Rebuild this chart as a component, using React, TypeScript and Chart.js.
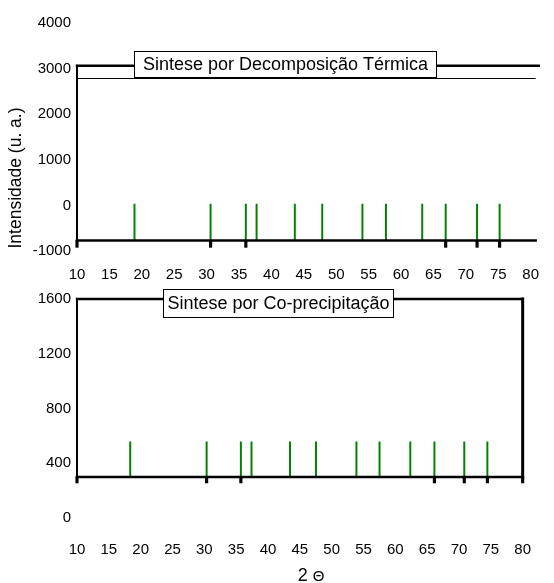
import React, { useEffect, useRef } from "react";
import { Chart, registerables } from "chart.js";

Chart.register(...registerables);

// ---------- data ----------
const xMin = 10;
const xMax = 80;
const xStep = 5;

const topTitle = "Sintese por Decomposição Térmica";
const topPeaks = [18.87, 30.61, 36.05, 37.71, 43.61, 47.84, 54.04, 57.67, 63.27, 66.89, 71.73, 75.21];
const topPeakBase = -770;
const topPeakTop = 30;
const topAxisTicks = [10, 30.61, 36.05, 66.89, 71.73, 75.21];
const topTickBottom = -920;
const topYMin = -1000;
const topYMax = 4000;
const topYStep = 1000;
const topFrameTop = 3060;
const topFrameThin = 2800;

const bottomTitle = "Sintese por Co-precipitação";
const bottomPeaks = [18.36, 30.36, 35.74, 37.41, 43.46, 47.54, 53.89, 57.52, 62.35, 66.14, 70.83, 74.46];
const bottomPeakBase = 300;
const bottomPeakTop = 556;
const bottomAxisTicks = [10, 30.36, 35.74, 66.14, 70.83, 74.46, 80];
const bottomTickBottom = 256;
const bottomYMin = 0;
const bottomYMax = 1600;
const bottomYStep = 400;
const bottomFrameTop = 1600;

const yAxisTitle = "Intensidade (u. a.)";
const xAxisTitleMain = "2 ";
const xAxisTitleSymbol = "Θ";

const FONT = '"Liberation Sans", Arial, Helvetica, sans-serif';

// ---------- frame plugin ----------
const framePlugin = {
  id: "frame",
  afterDatasetsDraw(chart: any, _args: any, opts: any) {
    const { ctx, chartArea, scales } = chart;
    const y = scales.y;
    const L = chartArea.left;
    const R = chartArea.right + (opts.extend || 0);
    const yTop = y.getPixelForValue(opts.top);
    const yAxis = y.getPixelForValue(opts.axis);
    const bl = L + opts.boxLeft;
    const br = L + opts.boxRight;
    const bt = Math.round(yTop + opts.boxTop);
    const bb = Math.round(yTop + opts.boxBottom);
    const line = (x1: number, y1: number, x2: number, y2: number) => {
      ctx.beginPath();
      ctx.moveTo(x1, y1);
      ctx.lineTo(x2, y2);
      ctx.stroke();
    };
    ctx.save();
    ctx.strokeStyle = "#000";
    ctx.lineCap = "square";
    ctx.lineWidth = 2.5;
    line(L, yTop, bl, yTop);
    line(br, yTop, R + (opts.topExtra || 0), yTop);
    if (opts.thin != null) {
      const yThin = y.getPixelForValue(opts.thin);
      ctx.lineWidth = 1;
      ctx.lineCap = "butt";
      line(L, Math.round(yThin) + 0.5, R, Math.round(yThin) + 0.5);
      ctx.lineCap = "square";
    }
    ctx.lineWidth = 2;
    line(L, yTop, L, yAxis);
    if (opts.rightLine) {
      ctx.lineWidth = 3;
      line(chartArea.right, yTop, chartArea.right, yAxis);
    }
    ctx.lineWidth = 2.5;
    line(L, yAxis, R, yAxis);
    ctx.fillStyle = "#fff";
    ctx.fillRect(bl, bt, br - bl, bb - bt);
    ctx.lineWidth = 1;
    ctx.lineCap = "butt";
    ctx.strokeRect(Math.round(bl) + 0.5, bt + 0.5, Math.round(br - bl) - 1, bb - bt - 1);
    ctx.fillStyle = "#000";
    ctx.font = `normal 18px ${FONT}`;
    ctx.textAlign = "center";
    ctx.textBaseline = "middle";
    ctx.fillText(opts.title, (bl + br) / 2, (bt + bb) / 2 + 1);
    if (opts.yTitle) {
      ctx.save();
      ctx.translate(opts.yTitleX, opts.yTitleY);
      ctx.rotate(-Math.PI / 2);
      ctx.font = `normal 17.5px ${FONT}`;
      ctx.fillText(opts.yTitle, 0, 0);
      ctx.restore();
    }
    ctx.restore();
  },
};

function makeConfig(p: any): any {
  const tickFont = { family: FONT, size: 15, weight: "normal" };
  return {
    type: "bar",
    data: {
      datasets: [
        {
          data: p.peaks.map((a: number) => ({ x: a, y: [p.peakBase, p.peakTop] })),
          backgroundColor: "#008000",
          borderWidth: 0,
          barThickness: 1.3,
          grouped: false,
        },
        {
          data: p.ticks.map((a: number) => ({ x: a, y: [p.tickBottom, p.peakBase] })),
          backgroundColor: "#000",
          borderWidth: 0,
          barThickness: 2.5,
          grouped: false,
          clip: false,
        },
      ],
    },
    options: {
      animation: false,
      responsive: false,
      maintainAspectRatio: false,
      layout: { padding: { left: 0, right: 14, top: p.padTop, bottom: p.padBottom } },
      plugins: {
        legend: { display: false },
        tooltip: { enabled: false },
        frame: p.frame,
      },
      scales: {
        x: {
          type: "linear",
          min: xMin,
          max: xMax,
          offset: false,
          ticks: {
            stepSize: xStep,
            autoSkip: false,
            maxRotation: 0,
            padding: p.xPad,
            color: "#000",
            font: tickFont,
            callback: (v: any) => String(v),
          },
          grid: { display: false, drawTicks: false, offset: false },
          border: { display: false },
          afterFit: (s: any) => {
            s.height = 40;
          },
        },
        y: {
          type: "linear",
          min: p.yMin,
          max: p.yMax,
          beginAtZero: false,
          ticks: {
            stepSize: p.yStep,
            padding: 6,
            color: "#000",
            font: tickFont,
            callback: (v: any) => String(v),
          },
          grid: { display: false, drawTicks: false },
          border: { display: false },
          afterFit: (s: any) => {
            s.width = 77;
          },
        },
      },
    },
    plugins: [framePlugin],
  };
}

function Panel({ cfg }: { cfg: any }) {
  const ref = useRef<HTMLCanvasElement | null>(null);
  useEffect(() => {
    if (!ref.current) return;
    const chart = new Chart(ref.current, makeConfig(cfg));
    return () => chart.destroy();
  }, []);
  return (
    <canvas
      ref={ref}
      width={554}
      height={583}
      style={{ position: "absolute", left: 0, top: 0, width: 554, height: 583, display: "block" }}
    />
  );
}

const topCfg = {
  peaks: topPeaks,
  peakBase: topPeakBase,
  peakTop: topPeakTop,
  ticks: topAxisTicks,
  tickBottom: topTickBottom,
  yMin: topYMin,
  yMax: topYMax,
  yStep: topYStep,
  padTop: 23,
  padBottom: 292,
  xPad: 15,
  frame: {
    top: topFrameTop,
    thin: topFrameThin,
    axis: topPeakBase,
    extend: 5,
    topExtra: 3,
    rightLine: false,
    boxLeft: 57,
    boxRight: 360,
    boxTop: -15,
    boxBottom: 12.5,
    title: topTitle,
    yTitle: yAxisTitle,
    yTitleX: 16,
    yTitleY: 178,
  },
};

const bottomCfg = {
  peaks: bottomPeaks,
  peakBase: bottomPeakBase,
  peakTop: bottomPeakTop,
  ticks: bottomAxisTicks,
  tickBottom: bottomTickBottom,
  yMin: bottomYMin,
  yMax: bottomYMax,
  yStep: bottomYStep,
  padTop: 299,
  padBottom: 25,
  xPad: 23,
  frame: {
    top: bottomFrameTop,
    thin: null,
    axis: bottomPeakBase,
    extend: 0,
    topExtra: 0,
    rightLine: true,
    boxLeft: 86,
    boxRight: 317,
    boxTop: -10,
    boxBottom: 19,
    title: bottomTitle,
  },
};

export default function App() {
  return (
    <div
      style={{
        position: "fixed",
        left: 0,
        top: 0,
        width: 554,
        height: 583,
        background: "#fff",
        overflow: "hidden",
        fontFamily: FONT,
        fontWeight: "normal",
        color: "#000",
      }}
    >
      <Panel cfg={topCfg} />
      <Panel cfg={bottomCfg} />
      <div
        style={{
          position: "absolute",
          left: 311,
          top: 575,
          transform: "translate(-50%, -50%)",
          fontSize: 18,
          fontWeight: "normal",
          whiteSpace: "nowrap",
          color: "#000",
          lineHeight: 1,
        }}
      >
        {xAxisTitleMain}
        <span style={{ fontSize: 15 }}>{xAxisTitleSymbol}</span>
      </div>
    </div>
  );
}
